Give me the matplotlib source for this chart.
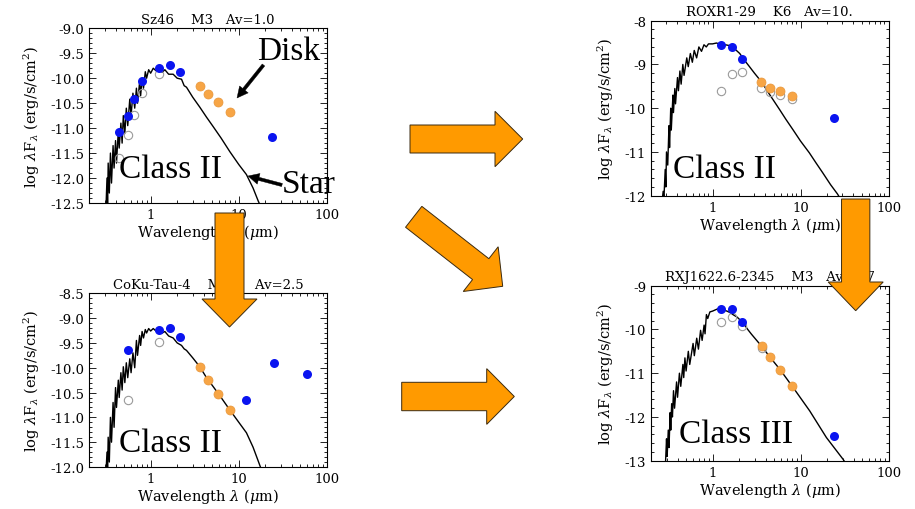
import numpy as np
import matplotlib
matplotlib.use("Agg")
import matplotlib.pyplot as plt
from matplotlib.patches import FancyArrow
from matplotlib.ticker import LogLocator, AutoMinorLocator, FixedLocator, NullFormatter

plt.rcParams['font.family'] = ['DejaVu Serif']
plt.rcParams['mathtext.fontset'] = 'dejavuserif'

# ---- panel 1: Sz46 (Class II) ----
sp1_wl = [0.31, 0.32, 0.325, 0.33, 0.34, 0.35, 0.36, 0.375, 0.385, 0.40, 0.41, 0.43, 0.44, 0.46,
          0.475, 0.49, 0.51, 0.53, 0.55, 0.58, 0.60, 0.63, 0.66, 0.69, 0.71, 0.75, 0.77, 0.80,
          0.83, 0.87, 0.90, 0.95, 1.0, 1.07, 1.15, 1.25, 1.35, 1.45, 1.6, 1.8, 2.0, 2.24, 2.4,
          2.55, 3.0, 3.61, 4.3, 5.12, 6.3, 7.9, 10.0, 12.2, 14.5, 16.6, 18.0]
sp1_f = [-12.7, -12.0, -12.6, -11.7, -12.3, -11.5, -12.1, -11.35, -11.8, -11.25, -11.7, -11.05,
         -11.4, -10.9, -11.3, -10.75, -11.1, -10.6, -10.95, -10.42, -10.75, -10.3, -10.6, -10.2,
         -10.5, -10.08, -10.35, -10.0, -10.2, -9.87, -10.0, -9.83, -9.9, -9.80, -9.85, -9.80,
         -9.88, -9.83, -9.92, -9.92, -10.0, -10.02, -10.15, -10.18, -10.38, -10.58, -10.78,
         -10.97, -11.2, -11.47, -11.73, -11.93, -12.2, -12.46, -12.6]
b1_wl = [0.44, 0.55, 0.64, 0.79, 1.235, 1.66, 2.16, 24.0]
b1_f = [-11.07, -10.76, -10.42, -10.05, -9.80, -9.73, -9.88, -11.18]
o1_wl = [3.6, 4.5, 5.8, 8.0]
o1_f = [-10.16, -10.31, -10.47, -10.68]
g1_wl = [0.44, 0.55, 0.64, 0.79, 1.235]
g1_f = [-11.6, -11.14, -10.74, -10.29, -9.92]

# ---- panel 2: CoKu-Tau-4 (Class II) ----
sp2_wl = sp1_wl
sp2_f = [-12.2, -11.7, -12.1, -11.4, -11.9, -11.0, -11.5, -10.7, -11.2, -10.4, -10.8, -10.25,
         -10.6, -10.1, -10.45, -9.98, -10.3, -9.9, -10.2, -9.82, -10.1, -9.7, -10.0, -9.45,
         -9.75, -9.35, -9.55, -9.27, -9.4, -9.23, -9.3, -9.21, -9.26, -9.21, -9.26, -9.22,
         -9.3, -9.27, -9.36, -9.40, -9.50, -9.55, -9.62, -9.65, -9.80, -9.98, -10.2, -10.38,
         -10.6, -10.85, -11.1, -11.31, -11.6, -11.88, -12.05]
b2_wl = [0.55, 1.235, 1.66, 2.16, 12.0, 25.0, 60.0]
b2_f = [-9.65, -9.23, -9.19, -9.39, -10.65, -9.90, -10.12]
o2_wl = [3.6, 4.5, 5.8, 8.0]
o2_f = [-9.98, -10.25, -10.53, -10.86]
g2_wl = [0.55, 1.235]
g2_f = [-10.65, -9.48]

# ---- panel 3: ROXR1-29 (Class II) ----
sp3_wl = [0.265, 0.275, 0.28, 0.29, 0.295, 0.30, 0.31, 0.32, 0.325, 0.335, 0.34, 0.355, 0.36,
          0.373, 0.38, 0.40, 0.41, 0.426, 0.44, 0.46, 0.475, 0.51, 0.53, 0.56, 0.59, 0.62, 0.66,
          0.70, 0.75, 0.80, 0.85, 0.90, 1.0, 1.11, 1.25, 1.4, 1.57, 1.8, 2.04, 2.3, 2.63, 3.0,
          3.58, 4.5, 5.78, 6.8, 8.2, 10.0, 12.6, 15.0, 17.8, 22.0, 26.3, 28.0]
sp3_f = [-12.2, -11.9, -12.1, -11.4, -11.8, -11.0, -11.3, -10.4, -10.9, -10.0, -10.5, -9.7,
         -10.1, -9.55, -9.9, -9.3, -9.6, -9.15, -9.45, -9.0, -9.25, -8.85, -9.05, -8.75, -8.95,
         -8.68, -8.85, -8.6, -8.7, -8.55, -8.6, -8.53, -8.53, -8.51, -8.55, -8.55, -8.57, -8.65,
         -8.75, -8.9, -9.05, -9.2, -9.39, -9.7, -10.03, -10.25, -10.49, -10.75, -11.02, -11.25,
         -11.47, -11.75, -11.96, -12.05]
b3_wl = [1.235, 1.66, 2.16, 24.0]
b3_f = [-8.56, -8.60, -8.88, -10.22]
o3_wl = [3.6, 4.5, 5.8, 8.0]
o3_f = [-9.39, -9.54, -9.61, -9.73]
g3_wl = [1.235, 1.66, 2.16, 3.6, 4.5, 5.8, 8.0]
g3_f = [-9.60, -9.21, -9.17, -9.54, -9.63, -9.69, -9.78]

# ---- panel 4: RXJ1622.6-2345 (Class III) ----
sp4_wl = [0.29, 0.30, 0.305, 0.314, 0.32, 0.33, 0.335, 0.343, 0.35, 0.36, 0.37, 0.39, 0.40,
          0.42, 0.435, 0.46, 0.47, 0.485, 0.50, 0.53, 0.55, 0.60, 0.62, 0.66, 0.69, 0.73, 0.76,
          0.80, 0.82, 0.85, 0.88, 0.93, 1.0, 1.08, 1.2, 1.3, 1.45, 1.6, 1.7, 1.9, 2.22, 2.5,
          2.76, 3.58, 4.5, 5.78, 8.2, 12.6, 19.5, 30.2, 32.0]
sp4_f = [-13.2, -12.5, -12.9, -12.3, -12.7, -11.9, -12.3, -11.7, -12.0, -11.4, -11.8, -11.2,
         -11.55, -11.0, -11.3, -10.8, -11.1, -10.65, -10.95, -10.5, -10.8, -10.32, -10.6, -10.2,
         -10.45, -10.02, -10.25, -9.9, -10.1, -9.66, -9.75, -9.6, -9.58, -9.55, -9.51, -9.55,
         -9.58, -9.62, -9.66, -9.72, -9.85, -10.0, -10.11, -10.38, -10.64, -10.91, -11.33,
         -11.86, -12.47, -12.97, -13.05]
b4_wl = [1.235, 1.66, 2.16, 24.0]
b4_f = [-9.54, -9.54, -9.83, -12.43]
o4_wl = [3.6, 4.5, 5.8, 8.0]
o4_f = [-10.38, -10.64, -10.93, -11.30]
g4_wl = [1.235, 1.66, 2.16, 3.6]
g4_f = [-9.83, -9.72, -9.92, -10.43]

titles = ["Sz46    M3   Av=1.0", "CoKu-Tau-4    M1.5   Av=2.5",
          "ROXR1-29    K6   Av=10.", "RXJ1622.6-2345    M3   Av=1.7"]
classes = ["Class II", "Class II", "Class II", "Class III"]
ylims = [(-12.5, -9.0), (-12.0, -8.5), (-12.0, -8.0), (-13.0, -9.0)]
ysteps = [0.5, 0.5, 1.0, 1.0]

fig = plt.figure(figsize=(9.15, 5.1), dpi=100)
W, H = 915.0, 510.0
# axes boxes in pixels: left, top, right, bottom
boxes = [(89, 29.3, 327, 204), (89, 294.3, 327, 468),
         (651, 21.7, 888.5, 196.7), (651, 286.7, 889, 461.7)]

panels = [(sp1_wl, sp1_f, b1_wl, b1_f, o1_wl, o1_f, g1_wl, g1_f),
          (sp2_wl, sp2_f, b2_wl, b2_f, o2_wl, o2_f, g2_wl, g2_f),
          (sp3_wl, sp3_f, b3_wl, b3_f, o3_wl, o3_f, g3_wl, g3_f),
          (sp4_wl, sp4_f, b4_wl, b4_f, o4_wl, o4_f, g4_wl, g4_f)]

for i, (swl, sf, bwl, bf, owl, of, gwl, gf) in enumerate(panels):
    l, t, r, b = boxes[i]
    ax = fig.add_axes([l / W, 1 - b / H, (r - l) / W, (b - t) / H])
    ax.plot(swl, sf, color='black', lw=1.0, zorder=2)
    ax.plot(gwl, gf, 'o', mfc='none', mec='#9a9a9a', ms=6, mew=0.8, zorder=3)
    ax.plot(owl, of, 'o', color='#f7a545', mec='#e8963a', ms=6.5, mew=0.5, zorder=4)
    ax.plot(bwl, bf, 'o', color='#0a14f0', mec='none', ms=6.5, zorder=5)
    ax.set_xscale('log')
    ax.set_xlim(0.2, 100)
    ax.set_ylim(*ylims[i])
    ax.xaxis.set_major_locator(FixedLocator([1, 10, 100]))
    ax.set_xticklabels(['1', '10', '100'])
    ax.xaxis.set_minor_locator(LogLocator(base=10, subs=np.arange(2, 10)))
    ax.xaxis.set_minor_formatter(NullFormatter())
    yt = np.arange(ylims[i][0], ylims[i][1] + 0.01, ysteps[i])
    ax.set_yticks(yt)
    if ysteps[i] < 1:
        ax.set_yticklabels(['%.1f' % v for v in yt])
    else:
        ax.set_yticklabels(['%d' % v for v in yt])
    ax.yaxis.set_minor_locator(AutoMinorLocator(5))
    ax.tick_params(which='both', direction='in', top=True, right=True, labelsize=9.5, width=0.6)
    ax.tick_params(which='major', length=5)
    ax.tick_params(which='minor', length=2.5)
    for s in ax.spines.values():
        s.set_linewidth(0.8)
    ax.set_title(titles[i], fontsize=9.5, pad=4)
    ax.set_xlabel(r'Wavelength $\lambda$ ($\mu$m)', fontsize=10.5, labelpad=1)
    ax.set_ylabel(r'log $\lambda$F$_\lambda$ (erg/s/cm$^2$)', fontsize=10.5, labelpad=6)

# overlay in pixel coordinates for annotations and arrows
ov = fig.add_axes([0, 0, 1, 1], zorder=10)
ov.set_xlim(0, W)
ov.set_ylim(H, 0)
ov.axis('off')
ov.patch.set_alpha(0)

big = dict(fc='#ff9a00', ec='#3a2a10', lw=0.7, length_includes_head=True)
ov.add_patch(FancyArrow(410, 140, 112.7, 0, width=28, head_width=55.4, head_length=27.7, **big))
ov.add_patch(FancyArrow(401.7, 397.5, 112.6, 0, width=28.4, head_width=55.7, head_length=27.6, **big))
ov.add_patch(FancyArrow(413.7, 217.8, 89, 69.5, width=26.5, head_width=56.7, head_length=27.9, **big))
ov.add_patch(FancyArrow(229.5, 214, 0, 114, width=29, head_width=55, head_length=28, **big))
ov.add_patch(FancyArrow(855.7, 200, 0, 111.7, width=28.3, head_width=55, head_length=28.7, **big))

blk = dict(fc='black', ec='black', lw=0.3, length_includes_head=True)
ov.add_patch(FancyArrow(263.5, 66, -26.5, 33, width=3.2, head_width=11, head_length=11, **blk))
ov.add_patch(FancyArrow(282, 186, -34, -9, width=3.2, head_width=11, head_length=11, **blk))

tfont = dict(family='Liberation Serif', fontsize=24, va='baseline', ha='left')
class_pos = [(119.3, 178.3), (119.3, 451.7), (673.3, 178.3), (679.3, 443.3)]
for (x, y), c in zip(class_pos, classes):
    ov.text(x, y, c, **tfont)
ov.text(256.7, 60, 'Disk', **tfont)
ov.text(281.7, 193.3, 'Star', **tfont)

fig.savefig('out.png', dpi=100)
